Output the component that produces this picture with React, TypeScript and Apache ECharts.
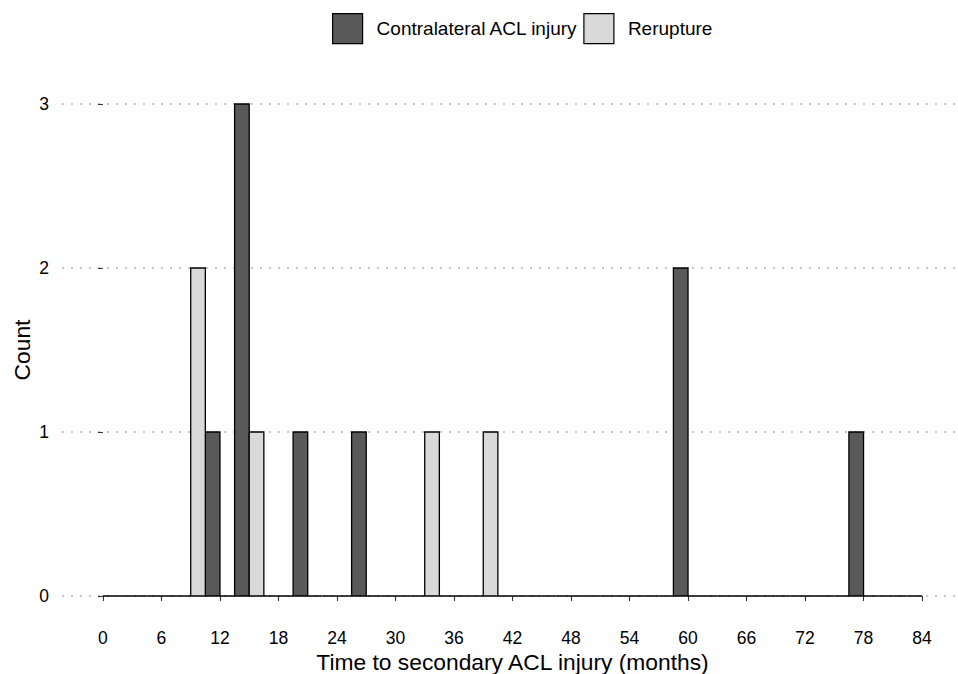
import React, { useEffect, useRef } from "react";
import * as echarts from "echarts";

const BIN_STARTS = [0, 3, 6, 9, 12, 15, 18, 21, 24, 27, 30, 33, 36, 39, 42, 45, 48, 51, 54, 57, 60, 63, 66, 69, 72, 75, 78, 81];
const BIN_WIDTH = 3;
const CONTRALATERAL = [0, 0, 0, 1, 3, 0, 1, 0, 1, 0, 0, 0, 0, 0, 0, 0, 0, 0, 0, 2, 0, 0, 0, 0, 0, 1, 0, 0];
const RERUPTURE = [0, 0, 0, 2, 0, 1, 0, 0, 0, 0, 0, 1, 0, 1, 0, 0, 0, 0, 0, 0, 0, 0, 0, 0, 0, 0, 0, 0];
const X_TICKS = [0, 6, 12, 18, 24, 30, 36, 42, 48, 54, 60, 66, 72, 78, 84];
const Y_TICKS = [0, 1, 2, 3];
const SERIES_NAMES = ["Contralateral ACL injury", "Rerupture"];

const FONT = "'Liberation Sans', Arial, Helvetica, sans-serif";

export default function App() {
  const ref = useRef<HTMLDivElement>(null);
  useEffect(() => {
    document.body.style.margin = "0";
    if (!ref.current) return;
    const chart = echarts.init(ref.current, undefined, { renderer: "svg" });
    // Dodge: Rerupture occupies left half of each bin, Contralateral the right half
    const half = BIN_WIDTH / 2;
    const rerData = BIN_STARTS.map((s, i) => [s, s + half, RERUPTURE[i]]);
    const conData = BIN_STARTS.map((s, i) => [s + half, s + BIN_WIDTH, CONTRALATERAL[i]]);
    const renderItem = (params: any, api: any) => {
      const x0 = api.value(0);
      const x1 = api.value(1);
      const v = api.value(2);
      const p0 = api.coord([x0, v]);
      const p1 = api.coord([x1, 0]);
      return {
        type: "rect",
        shape: { x: p0[0], y: p0[1], width: p1[0] - p0[0], height: p1[1] - p0[1] },
        style: api.style({ stroke: "#000", lineWidth: 1.3 }),
      };
    };
    chart.setOption({
      animation: false,
      textStyle: { fontFamily: FONT },
      legend: {
        data: SERIES_NAMES,
        left: 332,
        top: 13,
        padding: 0,
        itemWidth: 30,
        itemHeight: 30,
        itemGap: 5,
        icon: "rect",
        itemStyle: { borderColor: "#000", borderWidth: 1.2 },
        textStyle: { fontSize: 19, color: "#000", fontFamily: FONT, padding: [0, 0, 0, 9] },
      },
      grid: { left: 62, top: 79.4, width: 901, height: 541.2, containLabel: false, outerBoundsMode: "none" },
      xAxis: {
        type: "value",
        min: -4.2,
        max: 88.2,
        name: "Time to secondary ACL injury (months)",
        nameLocation: "middle",
        nameGap: 30,
        nameMoveOverlap: false,
        nameTextStyle: { fontSize: 22.8, color: "#000", fontFamily: FONT },
        axisLine: { show: false },
        axisTick: { show: true, length: 5, customValues: X_TICKS, lineStyle: { color: "#333", width: 1.1 } },
        axisLabel: { customValues: X_TICKS, fontSize: 17.5, color: "#000", margin: 8, fontFamily: FONT },
        splitLine: { show: false },
      },
      yAxis: {
        type: "value",
        min: -0.15,
        max: 3.15,
        name: "Count",
        nameLocation: "middle",
        nameGap: 28.5,
        nameMoveOverlap: false,
        nameRotate: 90,
        nameTextStyle: { fontSize: 22.8, color: "#000", fontFamily: FONT },
        axisLine: { show: false },
        axisTick: { show: true, length: 5, customValues: Y_TICKS, lineStyle: { color: "#333", width: 1.1 } },
        axisLabel: { customValues: Y_TICKS, fontSize: 17.5, color: "#000", margin: 13, fontFamily: FONT },
        splitLine: { show: true, lineStyle: { color: "#c8c8c8", width: 2, type: [2, 7] } },
      },
      series: [
        {
          name: SERIES_NAMES[0],
          type: "custom",
          renderItem,
          encode: { x: [0, 1], y: 2 },
          itemStyle: { color: "#595959", borderColor: "#000", borderWidth: 1.3 },
          data: conData,
        },
        {
          name: SERIES_NAMES[1],
          type: "custom",
          renderItem,
          encode: { x: [0, 1], y: 2 },
          itemStyle: { color: "#D9D9D9", borderColor: "#000", borderWidth: 1.3 },
          data: rerData,
        },
      ],
    });
    return () => chart.dispose();
  }, []);
  return <div ref={ref} style={{ position: "absolute", left: 0, top: 0, width: 958, height: 674 }} />;
}
